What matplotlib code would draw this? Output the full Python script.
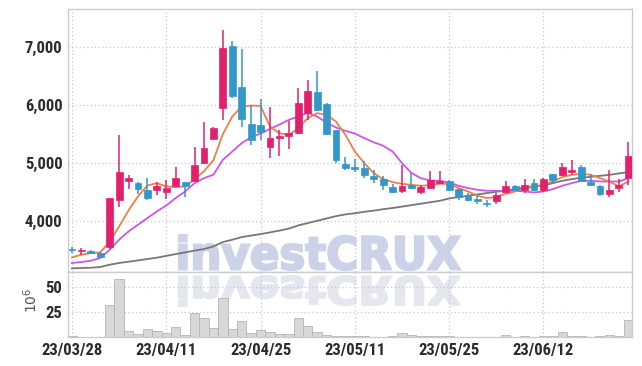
import matplotlib
matplotlib.use("Agg")
import matplotlib.pyplot as plt
from matplotlib.textpath import TextPath
from matplotlib.patches import PathPatch
from matplotlib.font_manager import FontProperties, findfont
from matplotlib.transforms import Affine2D

# ---------------- data ----------------
dates = ["23/03/28", "23/03/29", "23/03/30", "23/03/31", "23/04/03", "23/04/04", "23/04/05",
         "23/04/06", "23/04/07", "23/04/10", "23/04/11", "23/04/12", "23/04/13", "23/04/14",
         "23/04/17", "23/04/18", "23/04/19", "23/04/20", "23/04/21", "23/04/24", "23/04/25",
         "23/04/26", "23/04/27", "23/04/28", "23/05/02", "23/05/03", "23/05/04", "23/05/08",
         "23/05/09", "23/05/10", "23/05/11", "23/05/12", "23/05/15", "23/05/16", "23/05/17",
         "23/05/18", "23/05/19", "23/05/22", "23/05/23", "23/05/24", "23/05/25", "23/05/26",
         "23/05/30", "23/05/31", "23/06/01", "23/06/02", "23/06/05", "23/06/07", "23/06/08",
         "23/06/09", "23/06/12", "23/06/13", "23/06/14", "23/06/15", "23/06/16", "23/06/19",
         "23/06/20", "23/06/21", "23/06/22", "23/06/23"]

open_ = [3510, 3480, 3485, 3450, 3560, 4360, 4700, 4650, 4540, 4530,
         4500, 4600, 4670, 4700, 5000, 5420, 5960, 7030, 6320, 5680,
         5660, 5270, 5440, 5460, 5520, 5860, 6220, 6020, 5570, 4980,
         4930, 4910, 4780, 4730, 4580, 4520, 4620, 4510, 4570, 4660,
         4700, 4550, 4440, 4380, 4310, 4340, 4510, 4610, 4530, 4660,
         4530, 4820, 4790, 4850, 4925, 4680, 4610, 4460, 4565, 4740]
high = [3560, 3530, 3500, 3460, 4400, 5480, 4800, 4680, 4750, 4670,
        4710, 4930, 4680, 5280, 5710, 5615, 7300, 7100, 6970, 6000,
        6100, 5970, 5575, 5720, 6290, 6440, 6590, 6030, 5580, 5110,
        5070, 5030, 4880, 4770, 4640, 4970, 4830, 4630, 4870, 4860,
        4710, 4560, 4480, 4440, 4370, 4480, 4690, 4620, 4720, 4730,
        4740, 4820, 5000, 5060, 4970, 4810, 4620, 4885, 4725, 5370]
low = [3450, 3420, 3430, 3370, 3520, 4240, 4560, 4470, 4360, 4450,
       4380, 4590, 4420, 4690, 4990, 5410, 5750, 6120, 5620, 5310,
       5400, 5080, 5125, 5240, 5510, 5750, 5900, 5490, 5010, 4880,
       4840, 4740, 4660, 4540, 4480, 4490, 4560, 4460, 4560, 4650,
       4520, 4370, 4340, 4300, 4240, 4300, 4480, 4520, 4490, 4520,
       4500, 4660, 4770, 4800, 4680, 4600, 4440, 4410, 4500, 4630]
close = [3495, 3500, 3450, 3380, 4400, 4850, 4740, 4560, 4390, 4610,
         4570, 4750, 4600, 4960, 5260, 5610, 6990, 6150, 5760, 5400,
         5530, 5440, 5465, 5515, 6040, 6250, 5910, 5500, 5050, 4920,
         4900, 4800, 4720, 4620, 4510, 4610, 4570, 4580, 4710, 4700,
         4530, 4410, 4370, 4340, 4290, 4450, 4600, 4540, 4620, 4540,
         4730, 4710, 4925, 4880, 4700, 4630, 4470, 4530, 4625, 5130]

ma_short = [3373, 3420, 3448, 3459, 3648, 3907, 4183, 4425, 4614, 4655,
            4597, 4586, 4597, 4720, 4860, 5050, 5500, 5804, 5976, 5993,
            5988, 5631, 5517, 5488, 5603, 5776, 5862, 5833, 5717, 5488,
            5200, 5000, 4828, 4724, 4672, 4643, 4626, 4609, 4620, 4643,
            4643, 4569, 4511, 4437, 4397, 4414, 4471, 4511, 4557, 4597,
            4626, 4683, 4759, 4798, 4816, 4798, 4741, 4683, 4597, 4683]
ma_mid = [3276, 3293, 3316, 3362, 3505, 3678, 3821, 3936, 4052, 4166,
          4270, 4397, 4511, 4655, 4741, 4800, 5057, 5200, 5345, 5448,
          5510, 5591, 5665, 5747, 5804, 5870, 5804, 5700, 5614, 5557,
          5510, 5431, 5360, 5300, 5200, 5000, 4830, 4740, 4700, 4695,
          4666, 4609, 4569, 4540, 4523, 4523, 4511, 4523, 4511, 4494,
          4511, 4552, 4609, 4655, 4695, 4695, 4683, 4683, 4683, 4741]
ma_long = [3183, 3190, 3195, 3207, 3247, 3276, 3299, 3321, 3345, 3368,
           3400, 3430, 3460, 3490, 3517, 3563, 3638, 3678, 3724, 3750,
           3775, 3805, 3835, 3870, 3925, 3965, 4005, 4045, 4085, 4115,
           4135, 4160, 4180, 4205, 4225, 4250, 4275, 4300, 4325, 4350,
           4390, 4414, 4437, 4460, 4483, 4506, 4528, 4552, 4575, 4597,
           4614, 4655, 4695, 4724, 4747, 4764, 4781, 4798, 4822, 4845]

volume = [1.0, 0.3, 0.3, 0.4, 32, 58.5, 6, 3, 8, 6,
          4, 10, 2.5, 24, 19, 9, 39, 8, 16, 4,
          7, 5.5, 3, 3, 19, 11, 5.5, 2, 1.5, 1,
          0.8, 0.6, 0.5, 0.5, 0.6, 4, 2, 0.7, 1.5, 0.6,
          0.8, 0.5, 0.4, 0.3, 0.3, 0.4, 1.7, 0.5, 0.8, 0.4,
          1.0, 0.6, 5, 1.3, 0.7, 0.5, 0.6, 2, 0.8, 17]

price_ticks = [4000, 5000, 6000, 7000]
volume_ticks = [25, 50]
date_tick_idx = [0, 10, 20, 30, 40, 50]

# ---------------- style ----------------
UP = "#e2216d"
DOWN = "#3497c9"
GRID = "#c6c6dc"
SPINE = "#cccccc"


def has_font(name):
    try:
        findfont(FontProperties(family=name), fallback_to_default=False)
        return True
    except Exception:
        return False


if has_font("Liberation Sans Narrow"):
    TICK_FP = dict(family="Liberation Sans Narrow", size=12, weight="bold")
elif has_font("Roboto Condensed"):
    TICK_FP = dict(family="Roboto Condensed", size=12, weight="bold")
else:
    TICK_FP = dict(family="DejaVu Sans", size=9, weight="bold", stretch="condensed")

W, H = 642, 366
fig = plt.figure(figsize=(W / 100, H / 100), dpi=100)
ax = fig.add_axes([68 / W, (H - 272) / H, 564 / W, 263 / H])
axv = fig.add_axes([68 / W, (H - 337) / H, 564 / W, 65 / H], sharex=ax)

n = len(close)
xs = list(range(n))

# watermark (behind everything)
fp_wm = FontProperties(family="DejaVu Sans", weight="bold")
tp = TextPath((0, 0), "investCRUX", size=1, prop=fp_wm)
bb = tp.get_extents()
to_fig = Affine2D().scale(1 / W, 1 / H) + fig.transFigure
x0p, x1p = 179, 460
sx = (x1p - x0p) / bb.width
sy = (270 - 235) / bb.height
tr_main = Affine2D().translate(-bb.x0, -bb.y0).scale(sx, sy).translate(x0p, H - 270) + to_fig
ax.add_patch(PathPatch(tp, transform=tr_main, facecolor="#ccd3e8", edgecolor="#ccd3e8",
                       linewidth=1.6, zorder=0.2))
sy2 = (306 - 276) / bb.height
tr_ref = Affine2D().translate(-bb.x0, -bb.y0).scale(sx, -sy2).translate(x0p, H - 276) + to_fig
axv.add_patch(PathPatch(tp, transform=tr_ref, facecolor="#e6e6ef", edgecolor="#e6e6ef",
                        linewidth=1.6, zorder=0.2))

# candles
for i in xs:
    o, h, l, c = open_[i], high[i], low[i], close[i]
    col = UP if c >= o else DOWN
    ax.vlines(i, l, h, color=col, linewidth=1.1, zorder=3)
    bottom = min(o, c)
    height = max(abs(c - o), 18)
    ax.bar(i, height, bottom=bottom, width=0.72, color=col, edgecolor=col, linewidth=0.5, zorder=3)

ax.plot(xs, ma_long, color="#777777", linewidth=1.3, zorder=2)
ax.plot(xs, ma_mid, color="#cc55ee", linewidth=1.3, zorder=2)
ax.plot(xs, ma_short, color="#f07f45", linewidth=1.3, zorder=2)

axv.bar(xs, volume, width=1.0, color="#d8d8d8", edgecolor="#b5b5b5", linewidth=0.6, zorder=2)

# axes formatting
ax.set_xlim(-0.42, 59.39)
ax.set_ylim(3121, 7660)
axv.set_ylim(0, 65)

for a in (ax, axv):
    a.set_axisbelow(True)
    a.grid(True, color=GRID, linestyle=(0, (1, 2)), linewidth=0.9)
    for s in a.spines.values():
        s.set_color(SPINE)
        s.set_linewidth(1.0)
    a.tick_params(length=0, colors="#2b2b2b")

ax.set_yticks(price_ticks)
ax.set_yticklabels([f"{v:,}" for v in price_ticks], **TICK_FP)
axv.set_yticks(volume_ticks)
axv.set_yticklabels([str(v) for v in volume_ticks], **TICK_FP)
ax.tick_params(axis="y", pad=4)
axv.tick_params(axis="y", pad=4)

ax.set_xticks(date_tick_idx)
ax.tick_params(axis="x", labelbottom=False)
axv.set_xticks(date_tick_idx)
axv.set_xticklabels([dates[i] for i in date_tick_idx], **TICK_FP)
axv.tick_params(axis="x", pad=4)

fig.text(31 / W, 1 - 300 / H, r"$10^{6}$", rotation=90, ha="center", va="center",
         fontsize=10, color="#555555")

fig.savefig("out.png", dpi=100)
